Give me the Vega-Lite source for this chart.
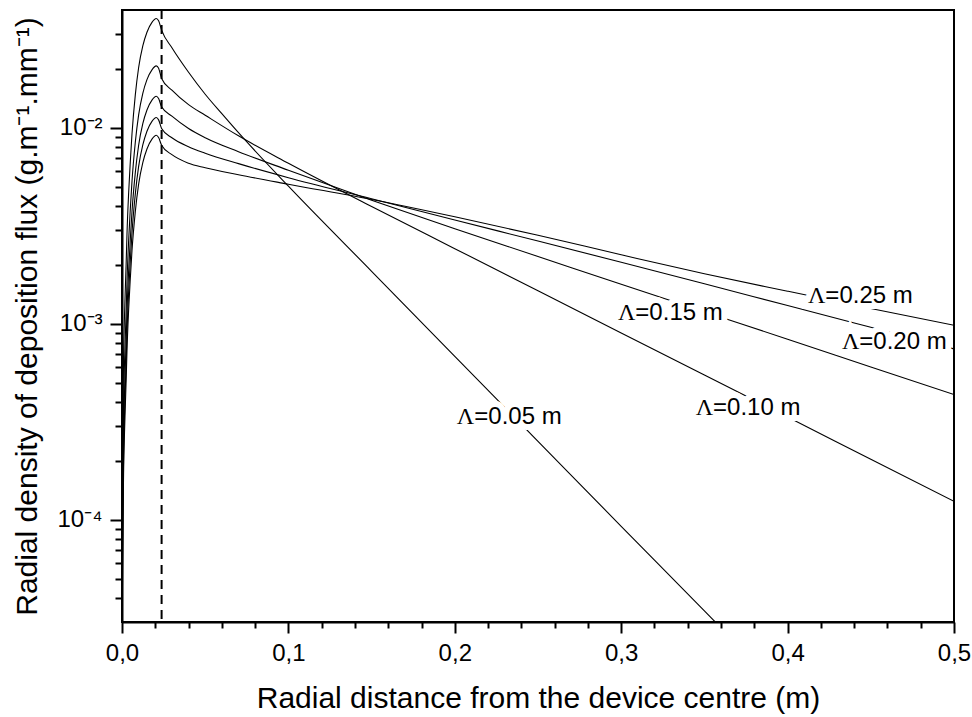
{
  "$schema": "https://vega.github.io/schema/vega-lite/v6.json",
  "width": 832,
  "height": 612,
  "autosize": {"type": "none"},
  "padding": {"left": 122, "top": 10, "right": 18, "bottom": 95},
  "background": "white",
  "config": {
    "view": {"stroke": "black", "strokeWidth": 2},
    "font": "Liberation Sans",
    "axis": {
      "labelFont": "Liberation Sans",
      "titleFont": "Liberation Sans",
      "labelColor": "black",
      "titleColor": "black",
      "titleFontWeight": "normal",
      "domainColor": "black",
      "domainWidth": 2,
      "tickColor": "black",
      "tickWidth": 2,
      "grid": false,
      "labelOverlap": false,
      "labelFlush": false
    }
  },
  "resolve": {"axis": {"x": "independent", "y": "independent"}},
  "datasets": {
    "curves": [
      {"lambda": "0.05", "r": 0.00005, "flux": 1.441e-5},
      {"lambda": "0.05", "r": 0.0003, "flux": 1.814e-4},
      {"lambda": "0.05", "r": 0.0006, "flux": 4.062e-4},
      {"lambda": "0.05", "r": 0.001, "flux": 7.223e-4},
      {"lambda": "0.05", "r": 0.0015, "flux": 1.093e-3},
      {"lambda": "0.05", "r": 0.002, "flux": 1.509e-3},
      {"lambda": "0.05", "r": 0.0025, "flux": 2.035e-3},
      {"lambda": "0.05", "r": 0.003, "flux": 2.875e-3},
      {"lambda": "0.05", "r": 0.004, "flux": 4.664e-3},
      {"lambda": "0.05", "r": 0.005, "flux": 6.74e-3},
      {"lambda": "0.05", "r": 0.006, "flux": 9.30e-3},
      {"lambda": "0.05", "r": 0.008, "flux": 1.475e-2},
      {"lambda": "0.05", "r": 0.01, "flux": 2.035e-2},
      {"lambda": "0.05", "r": 0.0125, "flux": 2.622e-2},
      {"lambda": "0.05", "r": 0.015, "flux": 3.081e-2},
      {"lambda": "0.05", "r": 0.018, "flux": 3.457e-2},
      {"lambda": "0.05", "r": 0.0206, "flux": 3.620e-2},
      {"lambda": "0.05", "r": 0.022, "flux": 3.521e-2},
      {"lambda": "0.05", "r": 0.0238, "flux": 3.155e-2},
      {"lambda": "0.05", "r": 0.03, "flux": 2.568e-2},
      {"lambda": "0.05", "r": 0.04, "flux": 1.925e-2},
      {"lambda": "0.05", "r": 0.05, "flux": 1.486e-2},
      {"lambda": "0.05", "r": 0.06, "flux": 1.182e-2},
      {"lambda": "0.05", "r": 0.07, "flux": 9.45e-3},
      {"lambda": "0.05", "r": 0.1, "flux": 5.04e-3},
      {"lambda": "0.05", "r": 0.15, "flux": 1.853e-3},
      {"lambda": "0.05", "r": 0.2, "flux": 6.82e-4},
      {"lambda": "0.05", "r": 0.25, "flux": 2.511e-4},
      {"lambda": "0.05", "r": 0.3, "flux": 9.24e-5},
      {"lambda": "0.05", "r": 0.35, "flux": 3.42e-5},
      {"lambda": "0.05", "r": 0.36, "flux": 2.80e-5},

      {"lambda": "0.10", "r": 0.00005, "flux": 8.25e-6},
      {"lambda": "0.10", "r": 0.0003, "flux": 1.039e-4},
      {"lambda": "0.10", "r": 0.0006, "flux": 2.326e-4},
      {"lambda": "0.10", "r": 0.001, "flux": 4.137e-4},
      {"lambda": "0.10", "r": 0.0015, "flux": 6.26e-4},
      {"lambda": "0.10", "r": 0.002, "flux": 8.64e-4},
      {"lambda": "0.10", "r": 0.0025, "flux": 1.166e-3},
      {"lambda": "0.10", "r": 0.003, "flux": 1.647e-3},
      {"lambda": "0.10", "r": 0.004, "flux": 2.672e-3},
      {"lambda": "0.10", "r": 0.005, "flux": 3.861e-3},
      {"lambda": "0.10", "r": 0.006, "flux": 5.33e-3},
      {"lambda": "0.10", "r": 0.008, "flux": 8.45e-3},
      {"lambda": "0.10", "r": 0.01, "flux": 1.166e-2},
      {"lambda": "0.10", "r": 0.0125, "flux": 1.502e-2},
      {"lambda": "0.10", "r": 0.015, "flux": 1.765e-2},
      {"lambda": "0.10", "r": 0.018, "flux": 1.980e-2},
      {"lambda": "0.10", "r": 0.0206, "flux": 2.074e-2},
      {"lambda": "0.10", "r": 0.022, "flux": 2.017e-2},
      {"lambda": "0.10", "r": 0.0238, "flux": 1.788e-2},
      {"lambda": "0.10", "r": 0.03, "flux": 1.558e-2},
      {"lambda": "0.10", "r": 0.04, "flux": 1.314e-2},
      {"lambda": "0.10", "r": 0.05, "flux": 1.161e-2},
      {"lambda": "0.10", "r": 0.07, "flux": 9.11e-3},
      {"lambda": "0.10", "r": 0.1, "flux": 6.60e-3},
      {"lambda": "0.10", "r": 0.15, "flux": 3.968e-3},
      {"lambda": "0.10", "r": 0.2, "flux": 2.418e-3},
      {"lambda": "0.10", "r": 0.25, "flux": 1.474e-3},
      {"lambda": "0.10", "r": 0.3, "flux": 8.98e-4},
      {"lambda": "0.10", "r": 0.35, "flux": 5.47e-4},
      {"lambda": "0.10", "r": 0.4, "flux": 3.339e-4},
      {"lambda": "0.10", "r": 0.45, "flux": 2.034e-4},
      {"lambda": "0.10", "r": 0.5, "flux": 1.240e-4},

      {"lambda": "0.15", "r": 0.00005, "flux": 5.78e-6},
      {"lambda": "0.15", "r": 0.0003, "flux": 7.28e-5},
      {"lambda": "0.15", "r": 0.0006, "flux": 1.629e-4},
      {"lambda": "0.15", "r": 0.001, "flux": 2.896e-4},
      {"lambda": "0.15", "r": 0.0015, "flux": 4.384e-4},
      {"lambda": "0.15", "r": 0.002, "flux": 6.05e-4},
      {"lambda": "0.15", "r": 0.0025, "flux": 8.16e-4},
      {"lambda": "0.15", "r": 0.003, "flux": 1.153e-3},
      {"lambda": "0.15", "r": 0.004, "flux": 1.870e-3},
      {"lambda": "0.15", "r": 0.005, "flux": 2.704e-3},
      {"lambda": "0.15", "r": 0.006, "flux": 3.731e-3},
      {"lambda": "0.15", "r": 0.008, "flux": 5.91e-3},
      {"lambda": "0.15", "r": 0.01, "flux": 8.16e-3},
      {"lambda": "0.15", "r": 0.0125, "flux": 1.051e-2},
      {"lambda": "0.15", "r": 0.015, "flux": 1.235e-2},
      {"lambda": "0.15", "r": 0.018, "flux": 1.387e-2},
      {"lambda": "0.15", "r": 0.0206, "flux": 1.452e-2},
      {"lambda": "0.15", "r": 0.022, "flux": 1.412e-2},
      {"lambda": "0.15", "r": 0.0238, "flux": 1.281e-2},
      {"lambda": "0.15", "r": 0.03, "flux": 1.148e-2},
      {"lambda": "0.15", "r": 0.04, "flux": 9.93e-3},
      {"lambda": "0.15", "r": 0.05, "flux": 8.91e-3},
      {"lambda": "0.15", "r": 0.07, "flux": 7.56e-3},
      {"lambda": "0.15", "r": 0.1, "flux": 6.08e-3},
      {"lambda": "0.15", "r": 0.15, "flux": 4.272e-3},
      {"lambda": "0.15", "r": 0.2, "flux": 3.056e-3},
      {"lambda": "0.15", "r": 0.25, "flux": 2.206e-3},
      {"lambda": "0.15", "r": 0.3, "flux": 1.591e-3},
      {"lambda": "0.15", "r": 0.35, "flux": 1.151e-3},
      {"lambda": "0.15", "r": 0.4, "flux": 8.34e-4},
      {"lambda": "0.15", "r": 0.45, "flux": 6.02e-4},
      {"lambda": "0.15", "r": 0.5, "flux": 4.349e-4},

      {"lambda": "0.20", "r": 0.00005, "flux": 4.50e-6},
      {"lambda": "0.20", "r": 0.0003, "flux": 5.66e-5},
      {"lambda": "0.20", "r": 0.0006, "flux": 1.268e-4},
      {"lambda": "0.20", "r": 0.001, "flux": 2.254e-4},
      {"lambda": "0.20", "r": 0.0015, "flux": 3.413e-4},
      {"lambda": "0.20", "r": 0.002, "flux": 4.711e-4},
      {"lambda": "0.20", "r": 0.0025, "flux": 6.36e-4},
      {"lambda": "0.20", "r": 0.003, "flux": 8.98e-4},
      {"lambda": "0.20", "r": 0.004, "flux": 1.456e-3},
      {"lambda": "0.20", "r": 0.005, "flux": 2.104e-3},
      {"lambda": "0.20", "r": 0.006, "flux": 2.905e-3},
      {"lambda": "0.20", "r": 0.008, "flux": 4.603e-3},
      {"lambda": "0.20", "r": 0.01, "flux": 6.36e-3},
      {"lambda": "0.20", "r": 0.0125, "flux": 8.18e-3},
      {"lambda": "0.20", "r": 0.015, "flux": 9.62e-3},
      {"lambda": "0.20", "r": 0.018, "flux": 1.079e-2},
      {"lambda": "0.20", "r": 0.0206, "flux": 1.130e-2},
      {"lambda": "0.20", "r": 0.022, "flux": 1.099e-2},
      {"lambda": "0.20", "r": 0.0238, "flux": 9.93e-3},
      {"lambda": "0.20", "r": 0.03, "flux": 8.91e-3},
      {"lambda": "0.20", "r": 0.04, "flux": 8.02e-3},
      {"lambda": "0.20", "r": 0.05, "flux": 7.43e-3},
      {"lambda": "0.20", "r": 0.07, "flux": 6.57e-3},
      {"lambda": "0.20", "r": 0.1, "flux": 5.57e-3},
      {"lambda": "0.20", "r": 0.15, "flux": 4.349e-3},
      {"lambda": "0.20", "r": 0.2, "flux": 3.385e-3},
      {"lambda": "0.20", "r": 0.25, "flux": 2.645e-3},
      {"lambda": "0.20", "r": 0.3, "flux": 2.061e-3},
      {"lambda": "0.20", "r": 0.35, "flux": 1.601e-3},
      {"lambda": "0.20", "r": 0.4, "flux": 1.239e-3},
      {"lambda": "0.20", "r": 0.45, "flux": 9.60e-4},
      {"lambda": "0.20", "r": 0.5, "flux": 7.44e-4},

      {"lambda": "0.25", "r": 0.00005, "flux": 3.65e-6},
      {"lambda": "0.25", "r": 0.0003, "flux": 4.60e-5},
      {"lambda": "0.25", "r": 0.0006, "flux": 1.030e-4},
      {"lambda": "0.25", "r": 0.001, "flux": 1.831e-4},
      {"lambda": "0.25", "r": 0.0015, "flux": 2.771e-4},
      {"lambda": "0.25", "r": 0.002, "flux": 3.825e-4},
      {"lambda": "0.25", "r": 0.0025, "flux": 5.16e-4},
      {"lambda": "0.25", "r": 0.003, "flux": 7.29e-4},
      {"lambda": "0.25", "r": 0.004, "flux": 1.182e-3},
      {"lambda": "0.25", "r": 0.005, "flux": 1.709e-3},
      {"lambda": "0.25", "r": 0.006, "flux": 2.359e-3},
      {"lambda": "0.25", "r": 0.008, "flux": 3.738e-3},
      {"lambda": "0.25", "r": 0.01, "flux": 5.16e-3},
      {"lambda": "0.25", "r": 0.0125, "flux": 6.65e-3},
      {"lambda": "0.25", "r": 0.015, "flux": 7.81e-3},
      {"lambda": "0.25", "r": 0.018, "flux": 8.76e-3},
      {"lambda": "0.25", "r": 0.0206, "flux": 9.18e-3},
      {"lambda": "0.25", "r": 0.022, "flux": 8.93e-3},
      {"lambda": "0.25", "r": 0.0238, "flux": 8.16e-3},
      {"lambda": "0.25", "r": 0.03, "flux": 7.30e-3},
      {"lambda": "0.25", "r": 0.04, "flux": 6.60e-3},
      {"lambda": "0.25", "r": 0.05, "flux": 6.26e-3},
      {"lambda": "0.25", "r": 0.07, "flux": 5.77e-3},
      {"lambda": "0.25", "r": 0.1, "flux": 5.16e-3},
      {"lambda": "0.25", "r": 0.15, "flux": 4.313e-3},
      {"lambda": "0.25", "r": 0.2, "flux": 3.519e-3},
      {"lambda": "0.25", "r": 0.25, "flux": 2.831e-3},
      {"lambda": "0.25", "r": 0.3, "flux": 2.251e-3},
      {"lambda": "0.25", "r": 0.35, "flux": 1.800e-3},
      {"lambda": "0.25", "r": 0.4, "flux": 1.466e-3},
      {"lambda": "0.25", "r": 0.45, "flux": 1.197e-3},
      {"lambda": "0.25", "r": 0.5, "flux": 9.82e-4}
    ],
    "labels": [
      {"lambda": "0.05", "r": 0.2117, "flux": 3.342e-4, "rest": "=0.05 m"},
      {"lambda": "0.10", "r": 0.3552, "flux": 3.703e-4, "rest": "=0.10 m"},
      {"lambda": "0.15", "r": 0.3085, "flux": 1.131e-3, "rest": "=0.15 m"},
      {"lambda": "0.20", "r": 0.4431, "flux": 8.09e-4, "rest": "=0.20 m"},
      {"lambda": "0.25", "r": 0.4227, "flux": 1.382e-3, "rest": "=0.25 m"}
    ],
    "marker": [{"r": 0.0238}]
  },
  "layer": [
    {
      "data": {"name": "curves"},
      "mark": {"type": "line", "color": "black", "strokeWidth": 1.1, "clip": true, "interpolate": "monotone"},
      "encoding": {
        "x": {
          "field": "r", "type": "quantitative",
          "scale": {"domain": [0, 0.5], "nice": false, "zero": false},
          "axis": {
            "orient": "bottom",
            "values": [0, 0.1, 0.2, 0.3, 0.4, 0.5],
            "title": "Radial distance from the device centre (m)",
            "titleFontSize": 30,
            "titlePadding": 18,
            "labelFontSize": 24,
            "labelPadding": 8,
            "tickSize": 11,
            "labelOverlap": false,
            "labelExpr": "replace(format(datum.value, '.1f'), '.', ',')"
          }
        },
        "y": {
          "field": "flux", "type": "quantitative",
          "scale": {"type": "log", "domain": [3e-5, 0.04], "nice": false},
          "axis": {
            "orient": "left",
            "values": [1e-4, 1e-3, 1e-2],
            "title": "Radial density of deposition flux (g.m⁻¹.mm⁻¹)",
            "titleFontSize": 30,
            "titlePadding": 14,
            "labelFontSize": 24,
            "labelPadding": 8,
            "tickSize": 12,
            "labelOverlap": false,
            "labelExpr": "'10⁻' + (round(-log(datum.value)/LN10) == 2 ? '²' : (round(-log(datum.value)/LN10) == 3 ? '³' : '⁴'))"
          }
        },
        "detail": {"field": "lambda", "type": "nominal"}
      }
    },
    {
      "data": {"name": "labels"},
      "mark": {"type": "point", "opacity": 0},
      "encoding": {
        "x": {
          "field": "r", "type": "quantitative",
          "axis": {
            "orient": "bottom",
            "values": [0.02, 0.04, 0.06, 0.08, 0.12, 0.14, 0.16, 0.18, 0.22, 0.24, 0.26, 0.28, 0.32, 0.34, 0.36, 0.38, 0.42, 0.44, 0.46, 0.48],
            "labels": false, "title": null, "domain": false, "tickSize": 6
          }
        },
        "y": {
          "field": "flux", "type": "quantitative",
          "axis": {
            "orient": "left",
            "values": [4e-5, 5e-5, 6e-5, 7e-5, 8e-5, 9e-5, 2e-4, 3e-4, 4e-4, 5e-4, 6e-4, 7e-4, 8e-4, 9e-4, 2e-3, 3e-3, 4e-3, 5e-3, 6e-3, 7e-3, 8e-3, 9e-3, 2e-2, 3e-2],
            "labels": false, "title": null, "domain": false, "tickSize": 7
          }
        }
      }
    },
    {
      "data": {"name": "marker"},
      "mark": {"type": "rule", "color": "black", "strokeWidth": 2, "strokeDash": [9, 6]},
      "encoding": {"x": {"field": "r", "type": "quantitative", "axis": null}}
    },
    {
      "data": {"name": "labels"},
      "mark": {"type": "text", "align": "left", "baseline": "middle", "fontSize": 24, "font": "Liberation Sans", "color": "white", "stroke": "white", "strokeWidth": 12},
      "encoding": {
        "x": {"field": "r", "type": "quantitative", "axis": null},
        "y": {"field": "flux", "type": "quantitative", "axis": null},
        "text": {"field": "rest"}
      }
    },
    {
      "data": {"name": "labels"},
      "mark": {"type": "text", "align": "right", "baseline": "middle", "fontSize": 24, "font": "Liberation Serif", "text": "Λ", "color": "white", "stroke": "white", "strokeWidth": 12},
      "encoding": {
        "x": {"field": "r", "type": "quantitative", "axis": null},
        "y": {"field": "flux", "type": "quantitative", "axis": null}
      }
    },
    {
      "data": {"name": "labels"},
      "mark": {"type": "text", "align": "left", "baseline": "middle", "fontSize": 24, "font": "Liberation Sans", "color": "black"},
      "encoding": {
        "x": {"field": "r", "type": "quantitative", "axis": null},
        "y": {"field": "flux", "type": "quantitative", "axis": null},
        "text": {"field": "rest"}
      }
    },
    {
      "data": {"name": "labels"},
      "mark": {"type": "text", "align": "right", "baseline": "middle", "fontSize": 24, "font": "Liberation Serif", "text": "Λ", "color": "black"},
      "encoding": {
        "x": {"field": "r", "type": "quantitative", "axis": null},
        "y": {"field": "flux", "type": "quantitative", "axis": null}
      }
    }
  ]
}
